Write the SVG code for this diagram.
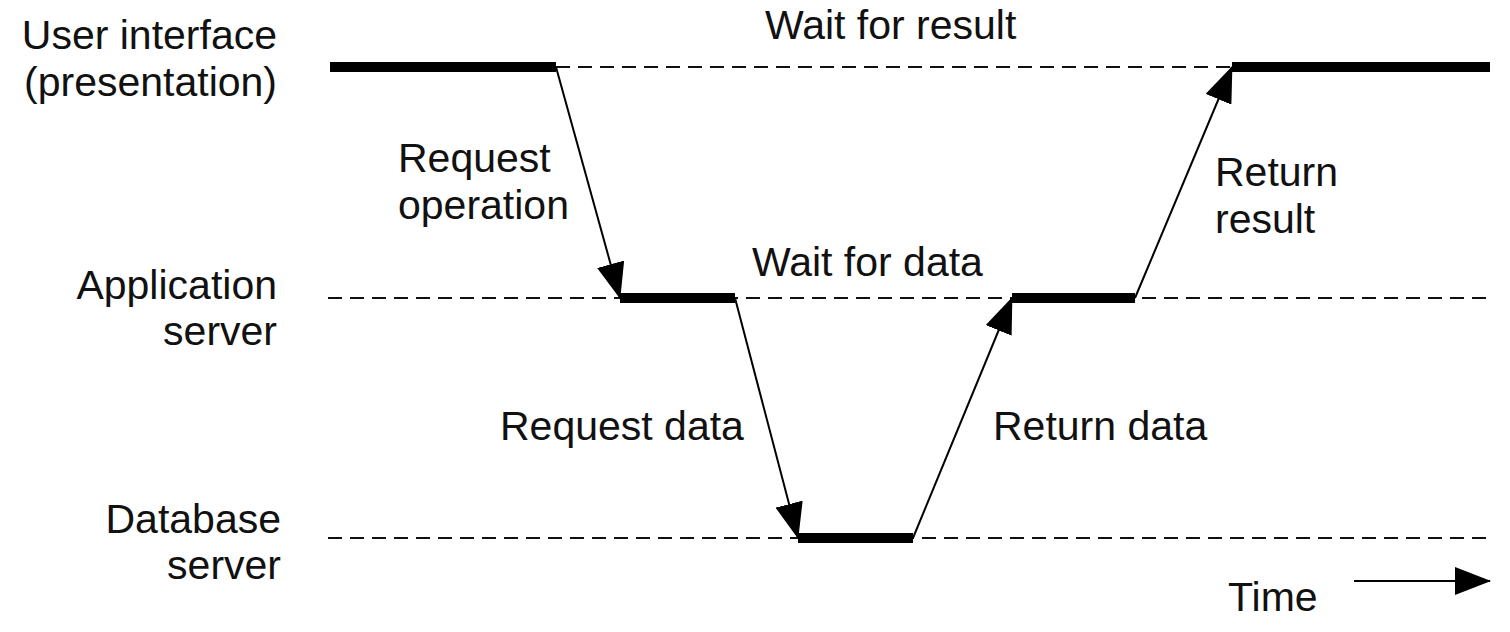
<svg xmlns="http://www.w3.org/2000/svg" width="1510" height="632" viewBox="0 0 1510 632">
<style>
text{font-family:"Liberation Sans",Arial,sans-serif;font-size:41px;fill:#111}
.lbl{text-anchor:end}
.dash{stroke:#111;stroke-width:2;stroke-dasharray:14 8;fill:none}
.bar{stroke:#000;stroke-width:10;fill:none}
.arr{stroke:#000;stroke-width:2;fill:none;marker-end:url(#ah)}
</style>
<defs>
<marker id="ah" markerUnits="userSpaceOnUse" viewBox="0 0 36 28" refX="35" refY="14" markerWidth="36" markerHeight="28" orient="auto">
<path d="M0,0 L36,14 L0,28 z" fill="#000"/>
</marker>
</defs>
<rect width="1510" height="632" fill="#fff"/>
<g id="lane-ui">
<text class="lbl" x="277" y="49">User interface</text>
<text class="lbl" x="277" y="96">(presentation)</text>
<line class="dash" x1="556" y1="67" x2="1232" y2="67"/>
<line class="bar" x1="330" y1="67" x2="556" y2="67"/>
<line class="bar" x1="1232" y1="67" x2="1490" y2="67"/>
<text x="765" y="39">Wait for result</text>
</g>
<g id="lane-app">
<text class="lbl" x="277" y="299">Application</text>
<text class="lbl" x="277" y="345">server</text>
<line class="dash" x1="328" y1="298" x2="1490" y2="298"/>
<line class="bar" x1="620" y1="298" x2="735" y2="298"/>
<line class="bar" x1="1012" y1="298" x2="1135" y2="298"/>
<text x="752" y="276">Wait for data</text>
</g>
<g id="lane-db">
<text class="lbl" x="281" y="533">Database</text>
<text class="lbl" x="281" y="579">server</text>
<line class="dash" x1="328" y1="538" x2="1490" y2="538"/>
<line class="bar" x1="798" y1="538" x2="913" y2="538"/>
</g>
<g id="connectors">
<line class="arr" x1="556" y1="67" x2="620" y2="298"/>
<line class="arr" x1="735" y1="298" x2="798" y2="538"/>
<line class="arr" x1="913" y1="538" x2="1012" y2="298"/>
<line class="arr" x1="1135" y1="298" x2="1232" y2="67"/>
<line class="arr" x1="1354" y1="581" x2="1490" y2="581"/>
</g>
<g id="labels">
<text x="398" y="172">Request</text>
<text x="398" y="219">operation</text>
<text x="500" y="440">Request data</text>
<text x="993" y="440">Return data</text>
<text x="1215" y="186">Return</text>
<text x="1215" y="233">result</text>
<text x="1228" y="611">Time</text>
</g>
</svg>
